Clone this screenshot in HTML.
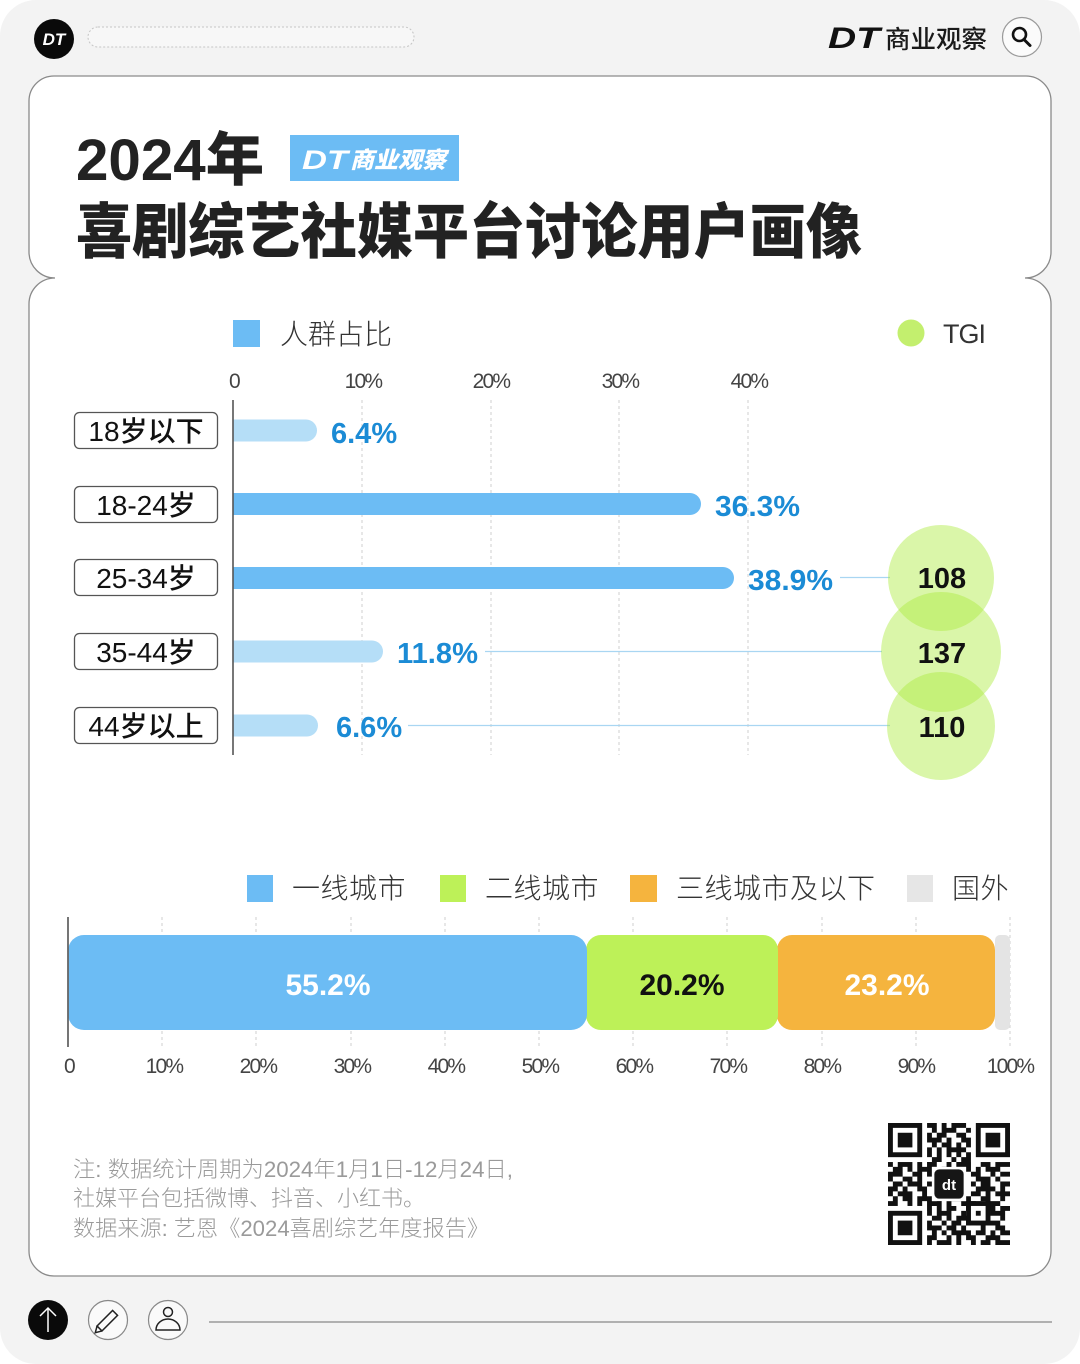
<!DOCTYPE html>
<html><head><meta charset="utf-8">
<style>
html,body{margin:0;padding:0;background:#fff;}
body{width:1080px;height:1364px;overflow:hidden;}
svg{display:block;}
text{font-family:"Liberation Sans","Noto Sans CJK SC",sans-serif;}
.cjk{font-family:"Liberation Sans","Noto Sans CJK SC",sans-serif;}
</style></head>
<body>
<svg width="1080" height="1364" viewBox="0 0 1080 1364" xmlns="http://www.w3.org/2000/svg">
  <!-- page background -->
  <rect x="0" y="0" width="1080" height="1364" rx="36" fill="#f3f3f3"/>

  <!-- header -->
  <circle cx="54" cy="39" r="20" fill="#0a0a0a"/>
  <text x="54" y="45" text-anchor="middle" font-size="17" font-weight="700" font-style="italic" fill="#fff">DT</text>
  <rect x="88" y="27" width="326" height="20" rx="10" fill="#f7f7f7" stroke="#c4c4c4" stroke-width="1" stroke-dasharray="2 2"/>

  <text x="828" y="48" font-size="30" font-weight="900" font-style="italic" fill="#111" textLength="52" lengthAdjust="spacingAndGlyphs">DT</text>
  <text x="885" y="48" font-size="25" font-weight="500" fill="#1a1a1a" class="cjk" textLength="102" lengthAdjust="spacingAndGlyphs">商业观察</text>
  <circle cx="1022" cy="37" r="19.5" fill="#fbfbfb" stroke="#9a9a9a" stroke-width="1.2"/>
  <circle cx="1019.5" cy="34.5" r="6.5" fill="none" stroke="#111" stroke-width="2.6"/>
  <line x1="1024" y1="39.5" x2="1030" y2="45.5" stroke="#111" stroke-width="3" stroke-linecap="round"/>

  <!-- main card -->
  <path d="M54 76 H1026 A25 25 0 0 1 1051 101 V252 A26 26 0 0 1 1025 278 A26 26 0 0 1 1051 304 V1251 A25 25 0 0 1 1026 1276 H54 A25 25 0 0 1 29 1251 V304 A26 26 0 0 1 55 278 A26 26 0 0 1 29 252 V101 A25 25 0 0 1 54 76 Z" fill="#ffffff" stroke="#8a8a8a" stroke-width="1.3"/>

  <!-- title -->
  <text x="76" y="180" font-size="58" font-weight="900" fill="#222" class="cjk" textLength="188" lengthAdjust="spacingAndGlyphs">2024年</text>
  <rect x="290" y="135" width="169" height="46" fill="#6cbcf4"/>
  <text x="302" y="169" font-size="27" font-weight="900" font-style="italic" fill="#fff" textLength="46" lengthAdjust="spacingAndGlyphs">DT</text>
  <text x="350" y="168" font-size="23" font-weight="900" font-style="italic" fill="#fff" class="cjk" textLength="96" lengthAdjust="spacingAndGlyphs">商业观察</text>
  <text x="76" y="253" font-size="60" font-weight="900" fill="#222" class="cjk" textLength="786" lengthAdjust="spacingAndGlyphs">喜剧综艺社媒平台讨论用户画像</text>

  <!-- chart 1 legend -->
  <rect x="233" y="320" width="27" height="27" fill="#6cbcf4"/>
  <text x="280" y="344" font-size="28" font-weight="300" fill="#333" class="cjk">人群占比</text>
  <circle cx="911" cy="333" r="13.5" fill="#c3ef6e"/>
  <text x="943" y="343" font-size="27" font-weight="300" fill="#333" letter-spacing="-1">TGI</text>

  <!-- chart 1 ticks -->
  <g font-size="21" fill="#444" text-anchor="middle" letter-spacing="-1.8">
    <text x="234" y="388">0</text>
    <text x="363" y="388">10%</text>
    <text x="491" y="388">20%</text>
    <text x="620" y="388">30%</text>
    <text x="749" y="388">40%</text>
  </g>
  <g stroke="#cfcfcf" stroke-width="1" stroke-dasharray="3 3">
    <line x1="362" y1="400" x2="362" y2="755"/>
    <line x1="491" y1="400" x2="491" y2="755"/>
    <line x1="619" y1="400" x2="619" y2="755"/>
    <line x1="748" y1="400" x2="748" y2="755"/>
  </g>

  <!-- connector lines -->
  <g stroke="#a9d6f2" stroke-width="1.2">
    <line x1="840" y1="577.5" x2="890" y2="577.5"/>
    <line x1="485" y1="651.5" x2="882" y2="651.5"/>
    <line x1="408" y1="725.5" x2="890" y2="725.5"/>
  </g>

  <!-- bars -->
  <path d="M233 419.5 H306 A11 11 0 0 1 306 441.5 H233 Z" fill="#b5def7"/>
  <path d="M233 493 H690 A11 11 0 0 1 690 515 H233 Z" fill="#6cbcf4"/>
  <path d="M233 567 H723 A11 11 0 0 1 723 589 H233 Z" fill="#6cbcf4"/>
  <path d="M233 640.5 H372 A11 11 0 0 1 372 662.5 H233 Z" fill="#b5def7"/>
  <path d="M233 714.5 H307 A11 11 0 0 1 307 736.5 H233 Z" fill="#b5def7"/>
  <line x1="233" y1="400" x2="233" y2="755" stroke="#555" stroke-width="1.6"/>

  <!-- value labels -->
  <g font-size="29" font-weight="700" fill="#1b8bd5">
    <text x="331" y="443">6.4%</text>
    <text x="715" y="516" textLength="85" lengthAdjust="spacingAndGlyphs">36.3%</text>
    <text x="748" y="590" textLength="85" lengthAdjust="spacingAndGlyphs">38.9%</text>
    <text x="397" y="663" textLength="81" lengthAdjust="spacingAndGlyphs">11.8%</text>
    <text x="336" y="737">6.6%</text>
  </g>

  <!-- category labels -->
  <g fill="#fff" stroke="#555" stroke-width="1.3">
    <rect x="74.5" y="412.5" width="143" height="36" rx="5"/>
    <rect x="74.5" y="486.5" width="143" height="36" rx="5"/>
    <rect x="74.5" y="559.5" width="143" height="36" rx="5"/>
    <rect x="74.5" y="633.5" width="143" height="36" rx="5"/>
    <rect x="74.5" y="707.5" width="143" height="36" rx="5"/>
  </g>
  <g font-size="28" font-weight="500" fill="#111" text-anchor="middle" class="cjk">
    <text x="146" y="441">18岁以下</text>
    <text x="146" y="515">18-24岁</text>
    <text x="146" y="588">25-34岁</text>
    <text x="146" y="662">35-44岁</text>
    <text x="146" y="736">44岁以上</text>
  </g>

  <!-- TGI circles -->
  <g fill="rgb(170,235,60)" fill-opacity="0.44">
    <circle cx="941" cy="578" r="53"/>
    <circle cx="941" cy="652" r="60"/>
    <circle cx="941" cy="726" r="54"/>
  </g>
  <g font-size="29" font-weight="700" fill="#111" text-anchor="middle">
    <text x="942" y="588">108</text>
    <text x="942" y="663">137</text>
    <text x="942" y="737">110</text>
  </g>

  <!-- chart 2 legend -->
  <g font-size="28" font-weight="300" fill="#333" class="cjk" letter-spacing="0.5">
    <rect x="247" y="875" width="26" height="27" fill="#6cbcf4"/>
    <text x="292" y="898">一线城市</text>
    <rect x="440" y="875" width="26" height="27" fill="#bdf158"/>
    <text x="485" y="898">二线城市</text>
    <rect x="630" y="875" width="27" height="27" fill="#f5b43e"/>
    <text x="676" y="898">三线城市及以下</text>
    <rect x="907" y="875" width="26" height="27" fill="#e6e6e6"/>
    <text x="952" y="898">国外</text>
  </g>

  <!-- chart 2 grid -->
  <g stroke="#cfcfcf" stroke-width="1" stroke-dasharray="3 3">
    <line x1="162" y1="917" x2="162" y2="1047"/>
    <line x1="256" y1="917" x2="256" y2="1047"/>
    <line x1="351" y1="917" x2="351" y2="1047"/>
    <line x1="445" y1="917" x2="445" y2="1047"/>
    <line x1="539" y1="917" x2="539" y2="1047"/>
    <line x1="633" y1="917" x2="633" y2="1047"/>
    <line x1="727" y1="917" x2="727" y2="1047"/>
    <line x1="822" y1="917" x2="822" y2="1047"/>
    <line x1="916" y1="917" x2="916" y2="1047"/>
    <line x1="1010" y1="917" x2="1010" y2="1047"/>
  </g>

  <!-- stacked bar -->
  <rect x="995" y="935" width="15" height="95" rx="5" fill="#e4e4e4"/>
  <rect x="777" y="935" width="218" height="95" rx="15" fill="#f5b43e"/>
  <rect x="586" y="935" width="192" height="95" rx="15" fill="#bdf158"/>
  <rect x="68" y="935" width="519" height="95" rx="16" fill="#6cbcf4"/>
  <line x1="68" y1="917" x2="68" y2="1047" stroke="#666" stroke-width="1.8"/>

  <g font-size="30" font-weight="700" text-anchor="middle">
    <text x="328" y="995" fill="#fff">55.2%</text>
    <text x="682" y="995" fill="#111">20.2%</text>
    <text x="887" y="995" fill="#fff">23.2%</text>
  </g>

  <g font-size="21" fill="#444" text-anchor="middle" letter-spacing="-1.8">
    <text x="69" y="1073">0</text>
    <text x="164" y="1073">10%</text>
    <text x="258" y="1073">20%</text>
    <text x="352" y="1073">30%</text>
    <text x="446" y="1073">40%</text>
    <text x="540" y="1073">50%</text>
    <text x="634" y="1073">60%</text>
    <text x="728" y="1073">70%</text>
    <text x="822" y="1073">80%</text>
    <text x="916" y="1073">90%</text>
    <text x="1010" y="1073">100%</text>
  </g>

  <!-- footnote -->
  <g font-size="22" font-weight="300" fill="#9a9a9a" class="cjk">
    <text x="73" y="1177" textLength="440" lengthAdjust="spacingAndGlyphs">注: 数据统计周期为2024年1月1日-12月24日,</text>
    <text x="73" y="1206">社媒平台包括微博、抖音、小红书。</text>
    <text x="73" y="1236" textLength="416" lengthAdjust="spacingAndGlyphs">数据来源: 艺恩《2024喜剧综艺年度报告》</text>
  </g>

  <!-- QR code -->
  <g transform="translate(888 1123) scale(4.88)">
    <rect x="0" y="0" width="25" height="25" fill="#fff"/>
    <path fill="none" stroke="#111" stroke-width="1" d="M8 .5h2M11 .5h1M13 .5h3M9 1.5h1M11 1.5h3M16 1.5h1M8 2.5h1M10 2.5h2M14 2.5h2M8 3.5h3M12 3.5h1M15 3.5h2M9 4.5h1M11 4.5h2M14 4.5h1M16 4.5h1M8 5.5h1M10 5.5h1M12 5.5h4M8 6.5h1M10 6.5h1M12 6.5h1M14 6.5h1M16 6.5h1M9 7.5h2M13 7.5h1M15 7.5h2M0 8.5h1M2 8.5h3M6 8.5h1M8 8.5h2M12 8.5h1M14 8.5h3M19 8.5h2M22 8.5h3M1 9.5h2M4 9.5h1M6 9.5h3M11 9.5h2M16 9.5h1M18 9.5h1M20 9.5h3M0 10.5h3M5 10.5h2M8 10.5h1M17 10.5h2M21 10.5h1M23 10.5h2M0 11.5h1M3 11.5h2M6 11.5h1M18 11.5h3M22 11.5h1M1 12.5h2M4 12.5h3M8 12.5h1M17 12.5h1M19 12.5h2M23 12.5h2M0 13.5h2M3 13.5h1M6 13.5h2M18 13.5h4M23 13.5h1M0 14.5h1M2 14.5h3M7 14.5h1M17 14.5h2M20 14.5h1M22 14.5h3M1 15.5h1M3 15.5h2M6 15.5h3M10 15.5h1M13 15.5h2M16 15.5h1M19 15.5h2M23 15.5h1M0 16.5h2M4 16.5h1M6 16.5h1M8 16.5h3M12 16.5h1M15 16.5h3M20 16.5h3M2 17.5h3M7 17.5h2M10 17.5h1M12 17.5h2M16 17.5h1M18 17.5h4M23 17.5h2M8 18.5h1M10 18.5h3M15 18.5h1M17 18.5h1M21 18.5h3M9 19.5h2M12 19.5h1M14 19.5h3M18 19.5h1M20 19.5h1M23 19.5h1M8 20.5h1M11 20.5h1M13 20.5h2M16 20.5h1M18 20.5h5M8 21.5h3M12 21.5h2M15 21.5h1M19 21.5h1M22 21.5h2M9 22.5h1M11 22.5h1M13 22.5h4M18 22.5h2M21 22.5h1M23 22.5h2M8 23.5h2M12 23.5h1M14 23.5h1M16 23.5h2M20 23.5h3M8 24.5h1M10 24.5h3M14 24.5h1M17 24.5h1M19 24.5h2M22 24.5h3"/>
    <!-- alignment -->
    <rect x="16" y="16" width="5" height="5" fill="#111"/>
    <rect x="17" y="17" width="3" height="3" fill="#fff"/>
    <rect x="18" y="18" width="1" height="1" fill="#111"/>
    <!-- finders -->
    <rect x="0" y="0" width="8" height="8" fill="#fff"/>
    <rect x="17" y="0" width="8" height="8" fill="#fff"/>
    <rect x="0" y="17" width="8" height="8" fill="#fff"/>
    <rect x="0" y="0" width="7" height="7" fill="#111"/>
    <rect x="1" y="1" width="5" height="5" fill="#fff"/>
    <rect x="2" y="2" width="3" height="3" fill="#111"/>
    <rect x="18" y="0" width="7" height="7" fill="#111"/>
    <rect x="19" y="1" width="5" height="5" fill="#fff"/>
    <rect x="20" y="2" width="3" height="3" fill="#111"/>
    <rect x="0" y="18" width="7" height="7" fill="#111"/>
    <rect x="1" y="19" width="5" height="5" fill="#fff"/>
    <rect x="2" y="20" width="3" height="3" fill="#111"/>
    <!-- logo -->
    <rect x="9" y="9" width="7" height="7" fill="#fff"/>
    <rect x="9.5" y="9.5" width="6" height="6" rx="1" fill="#161616"/>
  </g>
  <text x="949" y="1190" text-anchor="middle" font-size="15" font-weight="700" fill="#fff">dt</text>

  <!-- bottom toolbar -->
  <circle cx="48" cy="1320" r="20" fill="#0a0a0a"/>
  <line x1="48" y1="1332" x2="48" y2="1308" stroke="#fff" stroke-width="1.5"/>
  <polyline points="40,1316 48,1308 56,1316" fill="none" stroke="#fff" stroke-width="1.5"/>

  <circle cx="108" cy="1320" r="19.5" fill="#fafafa" stroke="#888" stroke-width="1.2"/>
  <g transform="rotate(-45 108 1320)" fill="none" stroke="#222" stroke-width="1.5">
    <rect x="96" y="1316.5" width="22" height="7"/>
    <polyline points="96,1316.5 90,1320 96,1323.5"/>
  </g>

  <circle cx="168" cy="1320" r="19.5" fill="#fafafa" stroke="#888" stroke-width="1.2"/>
  <circle cx="168" cy="1312" r="4.5" fill="none" stroke="#222" stroke-width="1.5"/>
  <path d="M156 1330 A12 11 0 0 1 180 1330 Z" fill="none" stroke="#222" stroke-width="1.5"/>

  <line x1="209" y1="1322" x2="1052" y2="1322" stroke="#9a9a9a" stroke-width="1.5"/>
</svg>
</body></html>
